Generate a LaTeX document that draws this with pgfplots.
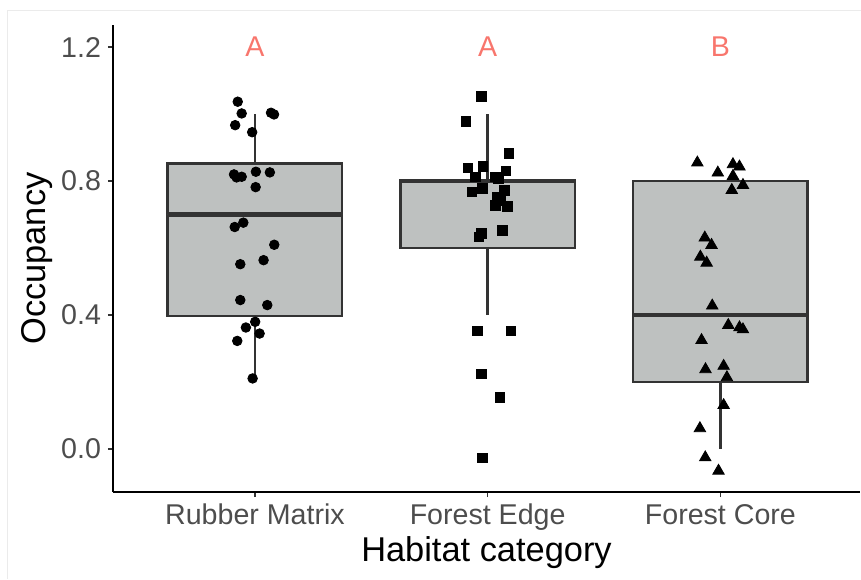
\documentclass[border=0pt]{standalone}
\usepackage{pgfplots}
\pgfplotsset{compat=1.18}
\usepgfplotslibrary{statistics}
\usepackage{fontspec}
\setmainfont{Liberation Sans}
\definecolor{boxfill}{HTML}{BEC1C0}
\definecolor{boxline}{HTML}{333333}
\definecolor{tickgray}{HTML}{4D4D4D}
\definecolor{letter}{HTML}{F8766D}
\definecolor{frame}{HTML}{EBEBEB}
\begin{document}
\begin{tikzpicture}
\useasboundingbox (-56.5pt,-43.5pt) rectangle (374pt,246pt);
\draw[frame, line width=0.5pt] (-52.5pt,-43.5pt) -- (-52.5pt,240.5pt) -- (374pt,240.5pt);
\begin{axis}[
  at={(0,0)}, anchor=south west,
  scale only axis, width=373.5pt, height=233.5pt,
  xmin=0.39, xmax=3.6, ymin=-0.128, ymax=1.266,
  axis x line*=bottom, axis y line*=left,
  axis line style={black, line width=1pt, -},
  xtick={1,2,3}, xticklabels={Rubber Matrix, Forest Edge, Forest Core},
  ytick={0,0.4,0.8,1.2},
  yticklabel style={/pgf/number format/fixed, /pgf/number format/fixed zerofill, /pgf/number format/precision=1},
  /pgf/number format/assume math mode=true,
  tick align=outside, tick style={boxline, line width=0.8pt},
  major tick length=2.5pt,
  ticklabel style={font=\fontsize{14.3}{17}\selectfont, text=tickgray},
  xlabel={Habitat category}, ylabel={Occupancy},
  label style={font=\fontsize{17.2}{20}\selectfont},
  xlabel style={at={(axis description cs:0.5,-0.1306)}, anchor=center},
  ylabel style={at={(axis description cs:-0.1017,0.5)}, anchor=center},
  clip=false,
  boxplot/draw direction=y,
  boxplot/every box/.style={draw=boxline, fill=boxfill, line width=1.2pt},
  boxplot/every whisker/.style={draw=boxline, line width=1.2pt},
  boxplot/every median/.style={line width=2.2pt, draw=boxline},
]
\addplot[boxplot prepared={draw position=1, lower whisker=0.211, lower quartile=0.398, median=0.70, upper quartile=0.853, upper whisker=1.0, box extend=0.75, whisker extend=0}, fill=boxfill, draw=boxline, line width=1.2pt] coordinates {};
\addplot[boxplot prepared={draw position=2, lower whisker=0.40, lower quartile=0.601, median=0.80, upper quartile=0.803, upper whisker=1.0, box extend=0.75, whisker extend=0}, fill=boxfill, draw=boxline, line width=1.2pt] coordinates {};
\addplot[boxplot prepared={draw position=3, lower whisker=0.0, lower quartile=0.201, median=0.40, upper quartile=0.80, upper whisker=0.80, box extend=0.75, whisker extend=0}, fill=boxfill, draw=boxline, line width=1.2pt] coordinates {};
\addplot[only marks, mark=*, mark size=2.4pt, black] coordinates {
(0.926,1.037)(0.943,1.002)(1.069,1.004)(1.082,0.999)(0.915,0.967)(0.988,0.946)(0.910,0.820)(0.921,0.811)(0.943,0.813)(1.004,0.828)(1.064,0.826)(1.003,0.782)(0.950,0.676)(0.913,0.663)(1.083,0.610)(1.037,0.564)(0.937,0.552)(0.937,0.445)(1.053,0.430)(1.001,0.380)(0.961,0.363)(1.020,0.345)(0.924,0.323)(0.990,0.211)
};
\addplot[only marks, mark=square*, mark size=2.4pt, black] coordinates {
(1.972,1.052)(1.906,0.979)(2.092,0.882)(1.915,0.840)(1.980,0.844)(2.078,0.830)(1.948,0.813)(2.032,0.813)(2.046,0.808)(1.932,0.768)(1.978,0.778)(2.072,0.772)(2.040,0.751)(2.055,0.741)(2.033,0.728)(2.086,0.724)(1.973,0.644)(1.962,0.634)(2.064,0.652)(1.956,0.353)(2.099,0.353)(1.972,0.224)(2.052,0.154)(1.978,-0.026)
};
\addplot[only marks, mark=triangle*, mark size=3.3pt, black] coordinates {
(2.901,0.855)(2.989,0.825)(3.054,0.850)(3.082,0.843)(3.054,0.815)(3.097,0.788)(3.049,0.773)(2.933,0.631)(2.962,0.609)(2.914,0.574)(2.941,0.556)(2.965,0.428)(3.034,0.370)(3.082,0.363)(3.097,0.357)(2.919,0.325)(2.936,0.238)(3.014,0.248)(3.028,0.214)(3.014,0.131)(2.912,0.062)(2.935,-0.025)(2.992,-0.065)
};
\addplot[only marks, mark=none, nodes near coords, point meta=explicit symbolic,
  every node near coord/.style={anchor=center, text=letter, font=\fontsize{14.3}{17}\selectfont}]
  table[meta=lab] {
x y lab
1 1.2 A
2 1.2 A
3 1.2 B
};
\end{axis}
\end{tikzpicture}
\end{document}
